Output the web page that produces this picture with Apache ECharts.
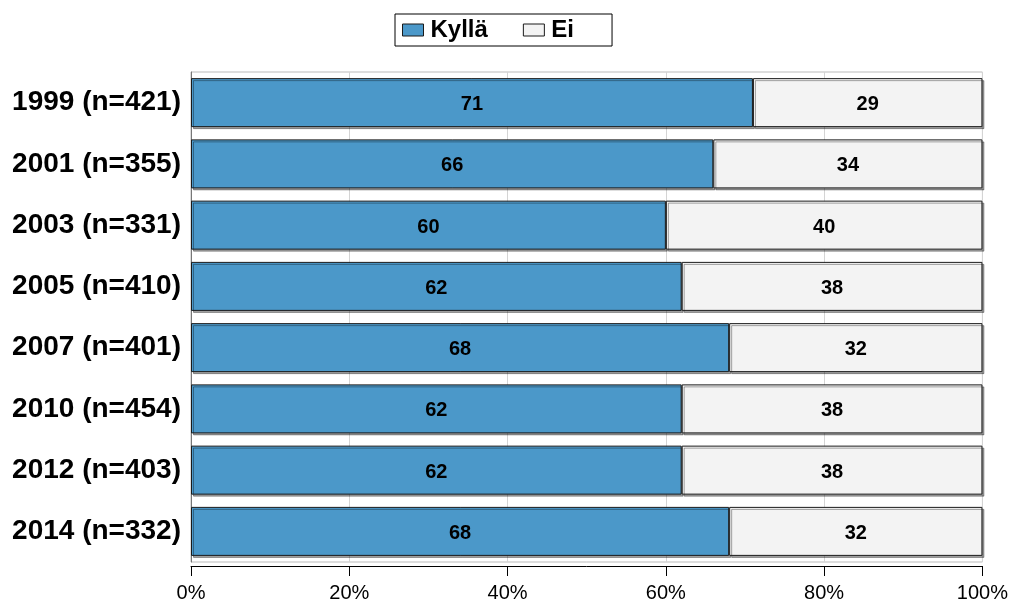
<!DOCTYPE html>
<html><head><meta charset="utf-8">
<script src="https://cdn.jsdelivr.net/npm/echarts@6/dist/echarts.min.js"></script>
<style>html,body{margin:0;padding:0;background:#fff}#c{width:1011px;height:606px}</style>
</head><body><div id="c"></div>
<script>
const categories = ['1999 (n=421)','2001 (n=355)','2003 (n=331)','2005 (n=410)','2007 (n=401)','2010 (n=454)','2012 (n=403)','2014 (n=332)'];
const kylla = [71, 66, 60, 62, 68, 62, 62, 68];
const ei = [29, 34, 40, 38, 32, 38, 38, 32];
const xTicks = [0, 20, 40, 60, 80, 100];

const font = 'Liberation Sans, Arial, sans-serif';
const chart = echarts.init(document.getElementById('c'), null, {renderer: 'canvas'});
const barStyle = (color) => ({
  color: color, borderColor: '#1a1a1a', borderWidth: 1,
  shadowColor: 'rgba(0,0,0,0.35)', shadowOffsetX: 2, shadowOffsetY: 2, shadowBlur: 0
});
const lbl = {show: true, position: 'inside', color: '#000', fontFamily: font, fontWeight: 'bold', fontSize: 20, offset: [0, 2]};
chart.setOption({
  animation: false,
  backgroundColor: '#fff',
  legend: {
    top: 14, left: 395,
    data: ['Kyllä', 'Ei'],
    icon: 'rect',
    borderColor: '#000', borderWidth: 1, padding: [4, 38, 4, 7],
    itemWidth: 21, itemHeight: 12, itemGap: 35,
    textStyle: {fontFamily: font, fontWeight: 'bold', fontSize: 24, color: '#000', padding: [0, 0, 0, 2]},
    itemStyle: {borderColor: '#1a1a1a', borderWidth: 1, shadowBlur: 0, shadowOffsetX: 0, shadowOffsetY: 0}
  },
  grid: {left: 191, right: 28, top: 72, bottom: 44, show: true, borderColor: '#bbb', borderWidth: 1},
  xAxis: {
    type: 'value', min: 0, max: 100, interval: 20,
    offset: 4,
    axisLine: {show: true, lineStyle: {color: '#000', width: 1}},
    axisTick: {show: true, length: 10, lineStyle: {color: '#000'}},
    axisLabel: {fontFamily: font, fontSize: 20, color: '#000', margin: 17,
      formatter: v => xTicks.includes(v) ? v + '%' : ''},
    splitLine: {show: true, lineStyle: {color: '#d4d4d4', width: 1}}
  },
  yAxis: {
    type: 'category', data: categories, inverse: true,
    axisLine: {show: true, lineStyle: {color: '#777'}},
    axisTick: {show: false},
    axisLabel: {fontFamily: font, fontWeight: 'bold', fontSize: 28, color: '#000', margin: 10}
  },
  series: [
    {name: 'Kyllä', type: 'bar', stack: 'a', data: kylla, barWidth: '80%', itemStyle: barStyle('#4b98c9'), label: lbl},
    {name: 'Ei', type: 'bar', stack: 'a', data: ei, barWidth: '80%', itemStyle: barStyle('#f3f3f3'), label: lbl}
  ]
});
</script></body></html>
